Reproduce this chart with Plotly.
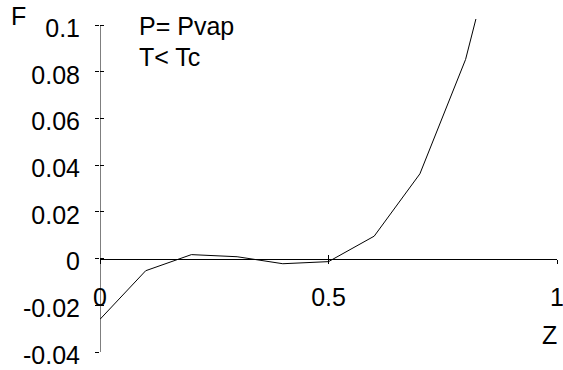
import plotly.graph_objects as go

# Data
z_values = [0.0, 0.1, 0.2, 0.3, 0.4, 0.5, 0.6, 0.7, 0.8, 0.9, 1.0]
f_values = [-0.026, -0.0052, 0.0017, 0.0008, -0.0022, -0.0013, 0.0096, 0.0363, 0.0853, 0.162, 0.273]

y_tickvals = [0.1, 0.08, 0.06, 0.04, 0.02, 0.0, -0.02, -0.04]
y_ticktext = ["0.1", "0.08", "0.06", "0.04", "0.02", "0", "-0.02", "-0.04"]
x_tickvals = [0.0, 0.5, 1.0]
x_ticktext = ["0", "0.5", "1"]

FONT = "Liberation Sans, Arial, sans-serif"
FS = 25

y_range = [-0.04, 0.1026]
x_range = [0, 1]
x_axis_pos = (0 - y_range[0]) / (y_range[1] - y_range[0])

fig = go.Figure()
fig.add_trace(go.Scatter(x=z_values, y=f_values, mode="lines",
                         line=dict(color="black", width=1), showlegend=False,
                         hoverinfo="skip"))
# invisible trace to activate overlay axes
fig.add_trace(go.Scatter(x=[z_values[0]], y=[f_values[0]], xaxis="x2", yaxis="y2",
                         mode="markers", marker=dict(opacity=0), showlegend=False,
                         hoverinfo="skip"))

fig.update_layout(
    width=563, height=370,
    margin=dict(l=100, r=6, t=19, b=18, pad=0, autoexpand=False),
    paper_bgcolor="white", plot_bgcolor="white",
    font=dict(family=FONT, size=FS, color="black"),
    xaxis=dict(range=x_range, anchor="free", position=x_axis_pos, automargin=False,
               showgrid=False, zeroline=False, showline=True,
               linecolor="black", linewidth=1,
               tickvals=x_tickvals, ticktext=x_ticktext,
               ticks="outside", ticklen=4, tickwidth=1, tickcolor="black",
               ticklabelstandoff=12, ticklabeloverflow="allow",
               tickfont=dict(family=FONT, size=FS, color="black")),
    xaxis2=dict(range=x_range, overlaying="x", anchor="free", position=x_axis_pos,
                automargin=False,
                showgrid=False, zeroline=False, showline=False,
                tickvals=x_tickvals, ticks="inside", ticklen=4, tickwidth=1,
                tickcolor="black", showticklabels=False),
    yaxis=dict(range=y_range, automargin=False,
               showgrid=False, zeroline=False, showline=False,
               tickvals=y_tickvals, ticktext=y_ticktext,
               ticks="outside", ticklen=4, tickwidth=1, tickcolor="black",
               ticklabelstandoff=10, ticklabelshift=3, ticklabeloverflow="allow",
               tickfont=dict(family=FONT, size=FS, color="black")),
    yaxis2=dict(range=y_range, overlaying="y", side="left", anchor="x",
                automargin=False,
                showgrid=False, zeroline=False, showline=False,
                tickvals=y_tickvals, ticks="inside", ticklen=4, tickwidth=1,
                tickcolor="black", showticklabels=False),
)

# y axis line from -0.04 to 0.1
fig.add_shape(type="line", xref="x", yref="y", x0=0, x1=0,
              y0=y_tickvals[-1], y1=y_tickvals[0],
              line=dict(color="black", width=1))

fig.add_annotation(text="F", xref="paper", yref="paper", x=-0.178, y=1.01,
                   xanchor="center", yanchor="middle", showarrow=False,
                   font=dict(family=FONT, size=FS, color="black"))
fig.add_annotation(text="Z", xref="paper", yref="paper", x=0.984, y=0.05,
                   xanchor="center", yanchor="middle", showarrow=False,
                   font=dict(family=FONT, size=FS, color="black"))
fig.add_annotation(text="P= Pvap", xref="paper", yref="paper", x=0.08, y=0.978,
                   xanchor="left", yanchor="middle", showarrow=False,
                   font=dict(family=FONT, size=FS, color="black"))
fig.add_annotation(text="T&lt; Tc", xref="paper", yref="paper", x=0.08, y=0.885,
                   xanchor="left", yanchor="middle", showarrow=False,
                   font=dict(family=FONT, size=FS, color="black"))

fig.write_html("out.html")
